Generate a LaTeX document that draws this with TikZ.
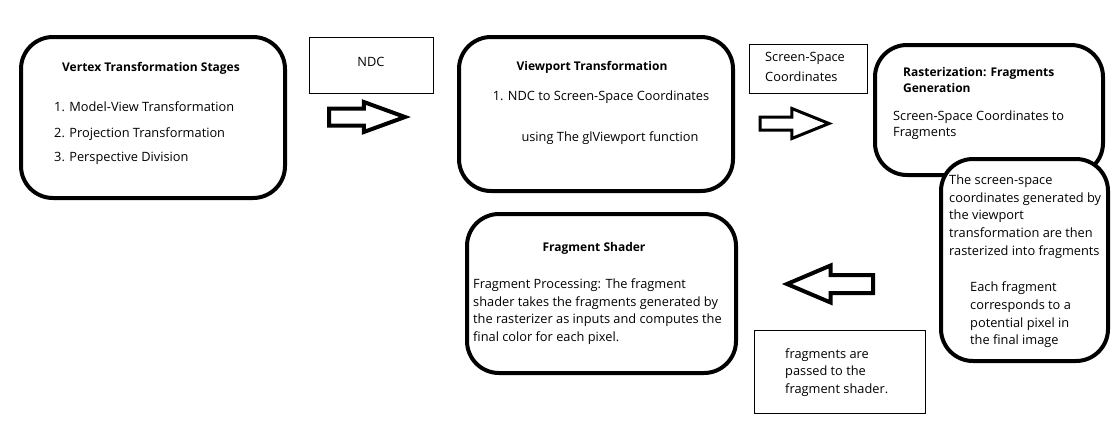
\documentclass[tikz,border=0pt]{standalone}
\usepackage{fontspec}
\setmainfont{Open Sans}
\usetikzlibrary{shapes}

\begin{document}
\begin{tikzpicture}[x=1pt,y=-1pt]
  \tikzstyle{stage}=[rectangle,draw,line width=4pt,rounded corners=32pt,fill=white,inner sep=0pt]
  \tikzstyle{note}=[rectangle,draw,line width=0.8pt,inner sep=0pt]
  \tikzstyle{blockarrow}=[single arrow,draw,anchor=tail,inner xsep=0pt,minimum width=0pt]
  \tikzstyle{txt}=[inner sep=0pt,align=left,font=\fontsize{12.8}{17.7}\selectfont]
  \tikzstyle{head}=[txt,font=\fontsize{12}{16}\selectfont\bfseries]
  \useasboundingbox (0,0) rectangle (1115,421);
  \node[stage,minimum width=264pt,minimum height=161pt] (vertex) at (153,117.5) {};
  \node[stage,minimum width=274pt,minimum height=154pt] (viewport) at (596,114) {};
  \node[stage,minimum width=228pt,minimum height=130pt] (raster) at (989,110) {};
  \node[stage,minimum width=167pt,minimum height=202pt] (rasternote) at (1024.5,260) {};
  \node[stage,minimum width=269pt,minimum height=159pt] (shader) at (601.5,293.5) {};
  \node[note,minimum width=124pt,minimum height=56pt] (ndc) at (371,65) {};
  \node[note,minimum width=118pt,minimum height=49pt] (screen) at (808,68.5) {};
  \node[note,minimum width=171pt,minimum height=83pt] (passed) at (839.5,371.5) {};
  \node[blockarrow,line width=4pt,inner ysep=6.5pt,single arrow head extend=6.5pt,single arrow tip angle=40,minimum height=76pt] (toviewport) at (327,117) {};
  \node[blockarrow,line width=3pt,inner ysep=5pt,single arrow head extend=8.5pt,single arrow tip angle=44,minimum height=69pt] (toraster) at (758.5,123.5) {};
  \node[blockarrow,line width=4pt,inner ysep=7pt,single arrow head extend=9.5pt,single arrow tip angle=46,minimum height=86pt,shape border rotate=180] (toshader) at (875,284) {};
  \node[head] (vertextitle) at (151,68) {Vertex Transformation Stages};
  \foreach \y/\t [count=\i] in {107/1. Model-View Transformation,134/2. Projection Transformation,158/3. Perspective Division}
    \node[txt,anchor=west] (vertexstep\i) at (54,\y) {\t};
  \node[txt] (ndctext) at (371,62) {NDC};
  \node[head] (viewporttitle) at (592,67) {Viewport Transformation};
  \node[txt] (viewportstep) at (601,97) {1. NDC to Screen-Space Coordinates};
  \node[txt] (viewportfunc) at (610,138) {using The glViewport function};
  \node[txt,anchor=west,font=\fontsize{12.8}{20}\selectfont] (screentext) at (765,67) {Screen-Space\\Coordinates};
  \node[head,anchor=west] (rastertitle) at (903,80) {Rasterization: Fragments\\Generation};
  \node[txt,anchor=west,font=\fontsize{12.8}{16}\selectfont] (rastertext) at (893,125) {Screen-Space Coordinates to\\Fragments};
  \node[txt,anchor=west] (rasterdetail) at (949,216.5) {The screen-space\\coordinates generated by\\the viewport\\transformation are then\\rasterized into fragments};
  \node[txt,anchor=west] (rasterpixel) at (970,315) {Each fragment\\corresponds to a\\potential pixel in\\the final image};
  \node[head] (shadertitle) at (594,248) {Fragment Shader};
  \node[txt,anchor=west] (shadertext) at (473,311.5) {Fragment Processing: The fragment\\shader takes the fragments generated by\\the rasterizer as inputs and computes the\\final color for each pixel.};
  \node[txt,anchor=west] (passedtext) at (785,372.5) {fragments are\\passed to the\\fragment shader.};
\end{tikzpicture}
\end{document}
